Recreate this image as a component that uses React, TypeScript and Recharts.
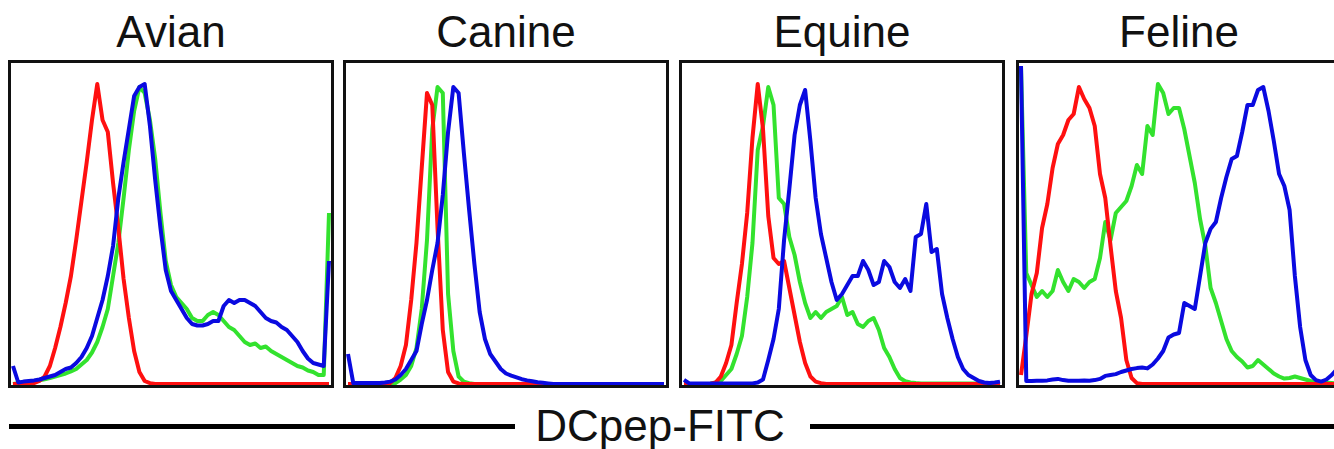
import { LineChart, Line, XAxis, YAxis } from "recharts"

// flow histograms, one value per channel bin (0..60), normalised so the peak ~ 100
const SPECIES = ["Avian", "Canine", "Equine", "Feline"]
const AXIS_LABEL = "DCpep-FITC"

const AVIAN_RED = [
  0, 0, 0, 0, 0.3, 1, 2.5, 6, 12, 19, 27, 36, 48, 61, 74, 88, 100, 88, 84, 67,
  52, 35, 22, 11, 4, 1, 0.3, 0, 0, 0, 0, 0, 0, 0, 0, 0, 0, 0, 0, 0,
  0, 0, 0, 0, 0, 0, 0, 0, 0, 0, 0, 0, 0, 0, 0, 0, 0, 0, 0, 0, 0,
]
const AVIAN_GREEN = [
  0, 0.3, 0.5, 0.8, 1, 1.2, 1.6, 2, 2.5, 3, 3.5, 4.2, 5, 6.5, 8, 10.5, 14, 19, 25, 36,
  47, 62, 78, 91, 99, 97, 88, 75, 57, 41, 33, 29, 27, 25, 22, 21, 21, 23, 24, 23,
  21, 19, 18, 16, 14, 13, 13.5, 12, 12.5, 11, 10, 9, 8, 7, 6, 5.5, 4.5, 4, 3, 3, 57,
]
const AVIAN_BLUE = [
  6, 0.5, 0.8, 1, 1.2, 1.5, 2, 2.5, 3, 4, 5, 5.5, 7, 9, 12, 16, 22, 28, 36, 46,
  62, 74, 85, 96, 99, 100, 86, 68, 52, 38, 31, 28, 25, 22, 20, 19.5, 19.5, 20, 21, 21,
  26, 28, 27, 28, 28, 27, 26, 24, 22, 21, 20.5, 19, 18, 16, 14, 11, 8.5, 7, 6.5, 6, 41,
]

const CANINE_RED = [
  0, 0, 0, 0, 0, 0, 0, 0, 0.3, 2, 6, 13, 28, 47, 72, 97, 93, 52, 18, 4,
  0.8, 0.2, 0, 0, 0, 0, 0, 0, 0, 0, 0, 0, 0, 0, 0, 0, 0, 0, 0, 0,
  0, 0, 0, 0, 0, 0, 0, 0, 0, 0, 0, 0, 0, 0, 0, 0, 0, 0, 0, 0, 0,
]
const CANINE_GREEN = [
  0, 0, 0, 0, 0, 0, 0, 0, 0, 0.3, 1.5, 3, 6, 12, 25, 48, 85, 99, 97, 30,
  11, 2.5, 0.8, 0.3, 0, 0, 0, 0, 0, 0, 0, 0, 0, 0, 0, 0, 0, 0, 0, 0,
  0, 0, 0, 0, 0, 0, 0, 0, 0, 0, 0, 0, 0, 0, 0, 0, 0, 0, 0, 0, 0,
]
const CANINE_BLUE = [
  10, 0.3, 0.3, 0.3, 0.3, 0.3, 0.3, 0.5, 0.8, 1.5, 3, 5, 8, 11, 20, 28, 38, 47, 63, 84,
  99, 97, 77, 58, 40, 24, 15, 10, 7.5, 5, 3.5, 2.8, 2.2, 1.6, 1.2, 0.9, 0.6, 0.4, 0.2, 0,
  0, 0, 0, 0, 0, 0, 0, 0, 0, 0, 0, 0, 0, 0, 0, 0, 0, 0, 0, 0, 0,
]

const EQUINE_RED = [
  0, 0, 0, 0, 0, 0, 0.5, 2.5, 7, 13, 27, 40, 57, 82, 100, 85, 56, 42, 40, 41,
  32, 23, 14, 7, 2.5, 0.8, 0.3, 0, 0, 0, 0, 0, 0, 0, 0, 0, 0, 0, 0, 0,
  0, 0, 0, 0, 0, 0, 0, 0, 0, 0, 0, 0, 0, 0, 0, 0, 0, 0, 0, 0, 0,
]
const EQUINE_GREEN = [
  0, 0, 0, 0, 0, 0.1, 0.5, 1, 3, 5, 10, 16, 29, 47, 78, 86, 99, 93, 62, 60,
  49, 43, 34, 27, 22, 24, 22, 24, 25, 26, 29, 23, 24, 20, 19, 21, 22, 18, 12, 9,
  5, 2, 0.9, 0.5, 0.3, 0.2, 0.2, 0.2, 0.2, 0.2, 0.2, 0.2, 0.2, 0.2, 0.2, 0.2, 0.2, 0.2, 0.2, 0.2, 0.2,
]
const EQUINE_BLUE = [
  1.4, 0.2, 0.2, 0.2, 0.2, 0.2, 0.2, 0.2, 0.2, 0.2, 0.2, 0.2, 0.2, 0.2, 0.5, 1.5, 8, 15, 25, 48,
  65, 83, 93, 98, 81, 62, 50, 42, 34, 28, 30, 33, 36, 36, 41, 38, 33, 34, 41, 39,
  34, 32, 35, 31, 49, 50, 60, 44, 45, 30, 22, 15, 9, 5, 3, 2, 1, 0.5, 0.3, 0.5, 0.8,
]

const FELINE_RED = [
  3, 16, 30, 37, 52, 60, 72, 80, 83, 88, 90, 99, 95, 92, 86, 70, 62, 46, 31, 22,
  8, 2, 0.3, 0, 0, 0, 0, 0, 0, 0, 0, 0, 0, 0, 0, 0, 0, 0, 0, 0,
  0, 0, 0, 0, 0, 0, 0, 0, 0, 0, 0, 0, 0, 0, 0, 0, 0, 0, 0, 0, 0,
]
const FELINE_GREEN = [
  106, 37, 33, 29, 31, 29, 31, 38, 34, 31, 35, 34, 32, 34, 35, 42, 54, 48, 57, 59,
  61, 66, 73, 70, 86, 83, 100, 97, 90, 92, 92, 85, 76, 67, 55, 46, 32, 27, 21, 15,
  11, 9, 7.5, 5.5, 6, 8, 6.5, 5, 3.5, 2.5, 1.8, 2, 2.5, 2, 1.5, 1, 0.8, 0.5, 0.4, 0.3, 0.2,
]
const FELINE_BLUE = [
  106, 1, 1, 1.1, 1.1, 1.2, 1.5, 1.7, 1.3, 1.1, 1.1, 1.1, 1.2, 1.1, 1.3, 1.7, 2.7, 3, 3.3, 4,
  4.5, 5, 5.3, 5.5, 5.2, 6.5, 8.5, 11, 15.5, 16.5, 17, 27, 26, 25, 36, 47, 51.7, 54, 62, 69,
  75, 76, 84, 93, 93, 98, 99, 91, 81, 70, 66, 58, 36, 19, 8, 3, 1.3, 0.8, 1.5, 3, 5,
]

const RED = "#ff1010"
const GREEN = "#33e22e"
const BLUE = "#0a0ae0"
const FONT = '"Liberation Sans", Arial, Helvetica, sans-serif'

const toRows = (red: number[], green: number[], blue: number[]) =>
  red.map((r, i) => ({ ch: i, red: r, green: green[i], blue: blue[i] }))

const PANELS = [
  toRows(AVIAN_RED, AVIAN_GREEN, AVIAN_BLUE),
  toRows(CANINE_RED, CANINE_GREEN, CANINE_BLUE),
  toRows(EQUINE_RED, EQUINE_GREEN, EQUINE_BLUE),
  toRows(FELINE_RED, FELINE_GREEN, FELINE_BLUE),
]

const PANEL_LEFT = [8, 343, 679, 1016]

function Histogram({ data }: { data: ReturnType<typeof toRows> }) {
  const lineProps = {
    type: "linear" as const,
    dot: false,
    strokeWidth: 4,
    strokeLinejoin: "round" as const,
    isAnimationActive: false,
  }
  return (
    <LineChart width={320} height={322} data={data} margin={{ top: 0, right: 2, bottom: 1, left: 2 }}>
      <XAxis dataKey="ch" type="number" domain={[0, 60]} hide />
      <YAxis type="number" domain={[0, 107]} hide />
      <Line dataKey="green" stroke={GREEN} {...lineProps} />
      <Line dataKey="red" stroke={RED} {...lineProps} />
      <Line dataKey="blue" stroke={BLUE} {...lineProps} />
    </LineChart>
  )
}

export default function App() {
  return (
    <div
      style={{
        position: "fixed",
        left: 0,
        top: 0,
        width: 1334,
        height: 449,
        overflow: "hidden",
        background: "#fff",
        fontFamily: FONT,
      }}
    >
      {SPECIES.map((name, k) => (
        <div key={name}>
          <div
            style={{
              position: "absolute",
              left: PANEL_LEFT[k],
              top: 10,
              width: 326,
              textAlign: "center",
              fontSize: 44,
              lineHeight: "44px",
              color: "#111",
            }}
          >
            {name}
          </div>
          <div
            style={{
              position: "absolute",
              left: PANEL_LEFT[k],
              top: 60,
              width: 326,
              height: 328,
              border: "3px solid #111",
              boxSizing: "border-box",
            }}
          >
            <Histogram data={PANELS[k]} />
          </div>
        </div>
      ))}
      <div style={{ position: "absolute", left: 9, top: 424, width: 506, height: 5, background: "#000" }} />
      <div style={{ position: "absolute", left: 810, top: 424, width: 530, height: 5, background: "#000" }} />
      <div
        style={{
          position: "absolute",
          left: 520,
          top: 404,
          width: 280,
          textAlign: "center",
          fontSize: 44,
          lineHeight: "44px",
          color: "#111",
        }}
      >
        {AXIS_LABEL}
      </div>
    </div>
  )
}
